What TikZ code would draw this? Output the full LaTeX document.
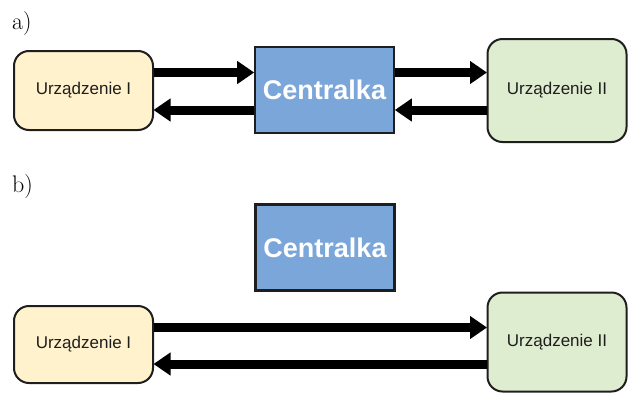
\documentclass[tikz,border=0pt]{standalone}
\usepackage{fontspec}
\newfontfamily\arialfont{Liberation Sans}
\usetikzlibrary{arrows.meta}
\definecolor{devyellow}{RGB}{255,242,204}
\definecolor{devgreen}{RGB}{222,236,208}
\definecolor{hubblue}{RGB}{123,166,218}
\definecolor{inkdark}{RGB}{30,30,30}
\tikzset{
  device/.style={draw=inkdark, line width=2pt, rounded corners=15pt,
    inner sep=0pt, minimum width=139pt, text=inkdark,
    font=\arialfont\fontsize{17}{20}\selectfont},
  hub/.style={draw=inkdark, fill=hubblue, line width=2.6pt, inner sep=0pt,
    minimum width=139pt, minimum height=86pt, text=white,
    font=\arialfont\bfseries\fontsize{27}{32}\selectfont},
  panel/.style={anchor=base west, inner sep=0pt, font=\fontsize{24}{28}\selectfont},
  link/.style={draw=black, line width=9pt,
    -{Triangle[length=17pt,width=22pt]}, shorten >=-0.5pt}
}
\begin{document}
\begin{tikzpicture}[x=1pt,y=-1pt]
\useasboundingbox (0,0) rectangle (628,394);

% --- variant a): both devices talk through the hub
\node[panel] (la) at (12,29.5) {a)};
\node[device, fill=devyellow, minimum height=79pt] (a1) at (83.5,90.5) {Urządzenie I};
\node[hub] (ac) at (324.5,90) {Centralka};
\node[device, fill=devgreen, minimum height=103pt] (a2) at (557,90.5) {Urządzenie II};

\draw[link] ([yshift=18pt]a1.east) -- ([yshift=18pt]a1.east -| ac.west);
\draw[link] ([yshift=-19.5pt]a1.east -| ac.west) -- ([yshift=-19.5pt]a1.east);
\draw[link] ([yshift=18pt]a1.east -| ac.east) -- ([yshift=18pt]a1.east -| a2.west);
\draw[link] ([yshift=-19.5pt]a1.east -| a2.west) -- ([yshift=-19.5pt]a1.east -| ac.east);

% --- variant b): devices talk directly, hub bypassed
\node[panel] (lb) at (12,192) {b)};
\node[hub] (bc) at (325,247.5) {Centralka};
\node[device, fill=devyellow, minimum height=77pt] (b1) at (83.5,344.5) {Urządzenie I};
\node[device, fill=devgreen, minimum height=99pt] (b2) at (557,342) {Urządzenie II};

\draw[link] ([yshift=17pt]b1.east) -- ([yshift=17pt]b1.east -| b2.west);
\draw[link] ([yshift=-19.5pt]b1.east -| b2.west) -- ([yshift=-19.5pt]b1.east);
\end{tikzpicture}
\end{document}
